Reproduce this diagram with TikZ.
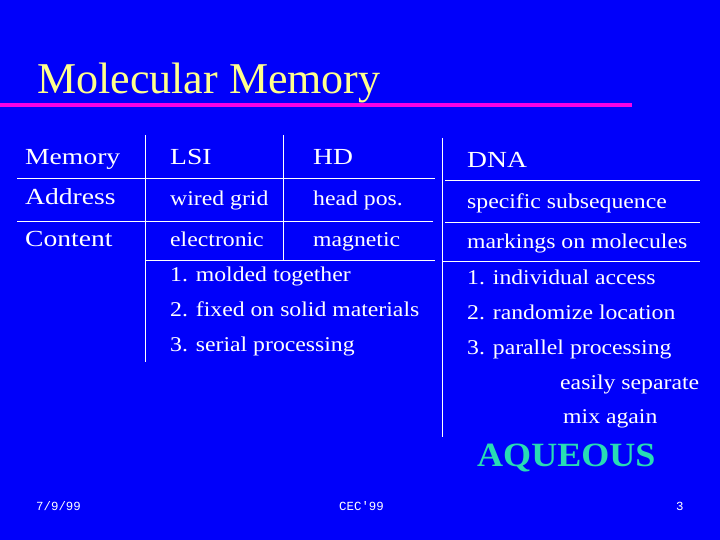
\documentclass[tikz,border=0pt]{standalone}
\usepackage{fontspec}
\setmainfont{Liberation Serif}
\newfontfamily\foot{Liberation Mono}
\newfontfamily\hdf[FakeStretch=1.2]{Liberation Serif}
\newfontfamily\lsf[FakeStretch=1.13]{Liberation Serif}
\newfontfamily\aqf[FakeStretch=1.06]{Liberation Serif}
\definecolor{bg}{RGB}{0,0,250}
\definecolor{ttl}{RGB}{255,255,140}
\definecolor{mag}{RGB}{250,0,230}
\definecolor{aq}{RGB}{40,220,180}
\begin{document}
\begin{tikzpicture}[x=1pt,y=-1pt,
  t/.style={anchor=base west,inner sep=0,text=white,font=\hdf\fontsize{23}{23}\selectfont},
  s/.style={anchor=base west,inner sep=0,text=white,font=\lsf\fontsize{21}{21}\selectfont},
  ft/.style={anchor=base west,inner sep=0,text=white,font=\foot\fontsize{12.4}{12}\selectfont},
  ln/.style={white,line width=0.8pt}]
\fill[bg] (0,0) rectangle (720,540);
\useasboundingbox (0,0) rectangle (720,540);
\node[anchor=base west,inner sep=0,text=ttl,font=\fontsize{44}{44}\selectfont] (title) at (37,94) {Molecular Memory};
\draw[mag,line width=4.5pt] (0,105) -- (632,105);
% lines
\draw[ln] (145,135) -- (145,362);
\draw[ln] (283,135) -- (283,260);
\draw[ln] (442,138) -- (442,437);
\draw[ln] (17,178) -- (435,178);
\draw[ln] (17,221) -- (433,221);
\draw[ln] (145,260) -- (435,260);
\draw[ln] (445,180) -- (700,180);
\draw[ln] (445,222) -- (700,222);
\draw[ln] (442,261) -- (700,261);
% row labels
\node[t] (m) at (25,165) {Memory};
\node[t] (a) at (25,205) {Address};
\node[t] (c) at (25,246) {Content};
\node[t] (lsi) at (170,165) {LSI};
\node[t] (hd) at (313,165) {HD};
\node[t] (dna) at (467,168) {DNA};
\node[s] (wg) at (170,206) {wired grid};
\node[s] (hp) at (313,206) {head pos.};
\node[s] (ss) at (467,209) {specific subsequence};
\node[s] (el) at (170,246) {electronic};
\node[s] (mg) at (313,246) {magnetic};
\node[s] (mk) at (467,248) {markings on molecules};
\node[s] (l1) at (170,281) {1. molded together};
\node[s] (l2) at (170,316) {2. fixed on solid materials};
\node[s] (l3) at (170,351) {3. serial processing};
\node[s] (r1) at (467,284) {1. individual access};
\node[s] (r2) at (467,319) {2. randomize location};
\node[s] (r3) at (467,354) {3. parallel processing};
\node[s] (r4) at (560,389) {easily separate};
\node[s] (r5) at (563,423) {mix again};
\node[anchor=base west,inner sep=0,text=aq,font=\aqf\fontsize{34}{34}\selectfont\bfseries] (aqu) at (477,466) {AQUEOUS};
\node[ft] (d) at (36,510) {7/9/99};
\node[ft] (cec) at (339,510) {CEC'99};
\node[ft] (pg) at (676,510) {3};
\end{tikzpicture}
\end{document}
